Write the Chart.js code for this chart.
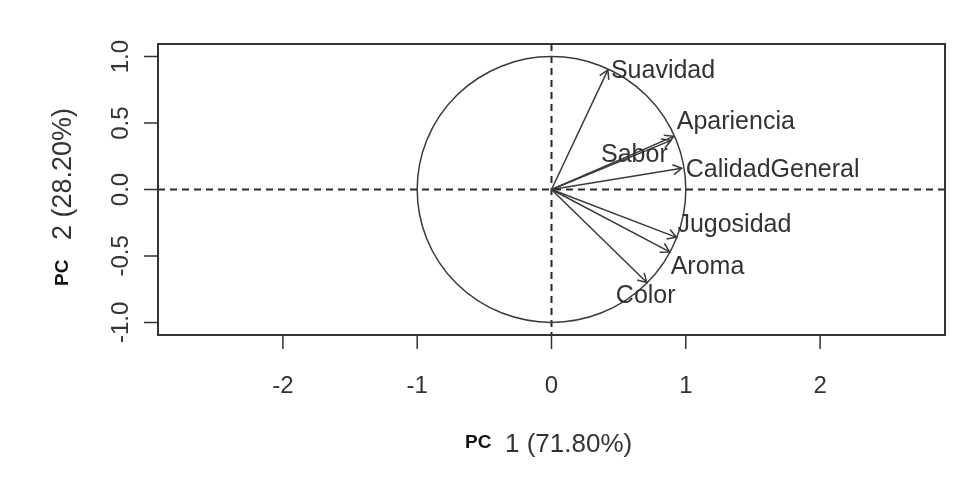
<!DOCTYPE html>
<html>
<head>
<meta charset="utf-8">
<script src="https://cdn.jsdelivr.net/npm/chart.js@4.4.1/dist/chart.umd.min.js"></script>
<style>
  html, body { margin: 0; padding: 0; background: #ffffff; }
  #wrap { width: 967px; height: 479px; position: relative; }
</style>
</head>
<body>
<div id="wrap"><canvas id="c" width="967" height="479"></canvas></div>
<script>
// Variable loadings on the first two principal components
const variables = ['Suavidad', 'Apariencia', 'Sabor', 'CalidadGeneral', 'Jugosidad', 'Aroma', 'Color'];
const pc1 = [0.42, 0.91, 0.89, 0.97, 0.93, 0.88, 0.71];
const pc2 = [0.90, 0.40, 0.37, 0.16, -0.36, -0.47, -0.70];

// Axis ticks
const xTicks = [-2, -1, 0, 1, 2];
const xTickLabels = ['-2', '-1', '0', '1', '2'];
const yTicks = [-1, -0.5, 0, 0.5, 1];
const yTickLabels = ['-1.0', '-0.5', '0.0', '0.5', '1.0'];

// Axis titles (bold prefix + plain rest)
const xTitle = ['PC', '1 (71.80%)'];
const yTitle = ['PC', '2 (28.20%)'];

// Pixel offsets of each variable label from its arrow tip (left edge, middle)
const labelOffsets = {
  Suavidad: [3, 1],
  Apariencia: [3, -14],
  Sabor: [-70, 15],
  CalidadGeneral: [4, 2],
  Jugosidad: [1, -12],
  Aroma: [1, 15],
  Color: [-31, 14]
};

const INK = '#333333';
const FONT = '"Liberation Sans", Arial, sans-serif';

const arrowSets = variables.map((name, i) => ({
  label: name,
  data: [{ x: 0, y: 0 }, { x: pc1[i], y: pc2[i] }],
  borderColor: '#3a3a3a',
  borderWidth: 1.5,
  pointRadius: 0,
  showLine: true,
  fill: false
}));

// Reference lines through the origin, circle, axes and texts
const biplotDecor = {
  id: 'biplotDecor',
  beforeDatasetsDraw(chart) {
    const { ctx, chartArea: a, scales: { x, y } } = chart;
    const cx = x.getPixelForValue(0), cy = y.getPixelForValue(0);
    ctx.save();
    // dashed zero lines
    ctx.strokeStyle = '#2a2a2a';
    ctx.lineWidth = 2;
    ctx.setLineDash([7, 5]);
    ctx.beginPath();
    ctx.moveTo(a.left, cy); ctx.lineTo(a.right, cy);
    ctx.moveTo(cx, a.top); ctx.lineTo(cx, a.bottom);
    ctx.stroke();
    ctx.setLineDash([]);
    // unit correlation circle
    const rx = x.getPixelForValue(1) - cx;
    const ry = cy - y.getPixelForValue(1);
    ctx.lineWidth = 1.5;
    ctx.strokeStyle = '#3a3a3a';
    ctx.beginPath();
    ctx.ellipse(cx, cy, rx, ry, 0, 0, Math.PI * 2);
    ctx.stroke();
    ctx.restore();
  },
  afterDatasetsDraw(chart) {
    const { ctx, chartArea: a, scales: { x, y } } = chart;
    ctx.save();
    // arrowheads
    ctx.strokeStyle = '#3a3a3a';
    ctx.lineWidth = 1.5;
    variables.forEach((name, i) => {
      const x0 = x.getPixelForValue(0), y0 = y.getPixelForValue(0);
      const x1 = x.getPixelForValue(pc1[i]), y1 = y.getPixelForValue(pc2[i]);
      const ang = Math.atan2(y1 - y0, x1 - x0);
      const L = 10, spread = Math.PI / 6;
      ctx.beginPath();
      ctx.moveTo(x1 - L * Math.cos(ang - spread), y1 - L * Math.sin(ang - spread));
      ctx.lineTo(x1, y1);
      ctx.lineTo(x1 - L * Math.cos(ang + spread), y1 - L * Math.sin(ang + spread));
      ctx.stroke();
    });
    // variable labels
    ctx.fillStyle = INK;
    ctx.font = '25px ' + FONT;
    ctx.textAlign = 'left';
    ctx.textBaseline = 'middle';
    variables.forEach((name, i) => {
      const off = labelOffsets[name];
      ctx.fillText(name, x.getPixelForValue(pc1[i]) + off[0], y.getPixelForValue(pc2[i]) + off[1]);
    });

    // plot box
    ctx.lineWidth = 2;
    ctx.strokeStyle = INK;
    ctx.strokeRect(a.left, a.top, a.right - a.left, a.bottom - a.top);

    // axis tick marks
    const tl = 14;
    ctx.lineWidth = 1.5;
    ctx.beginPath();
    xTicks.forEach(v => {
      const px = x.getPixelForValue(v);
      ctx.moveTo(px, a.bottom); ctx.lineTo(px, a.bottom + tl);
    });
    yTicks.forEach(v => {
      const py = y.getPixelForValue(v);
      ctx.moveTo(a.left, py); ctx.lineTo(a.left - tl, py);
    });
    ctx.stroke();

    // tick labels
    ctx.font = '24px ' + FONT;
    ctx.textAlign = 'center';
    ctx.textBaseline = 'middle';
    xTicks.forEach((v, i) => {
      ctx.fillText(xTickLabels[i], x.getPixelForValue(v), 386);
    });
    yTicks.forEach((v, i) => {
      ctx.save();
      ctx.translate(121, y.getPixelForValue(v));
      ctx.rotate(-Math.PI / 2);
      ctx.fillText(yTickLabels[i], 0, 0);
      ctx.restore();
    });

    // x axis title
    ctx.textAlign = 'left';
    ctx.textBaseline = 'alphabetic';
    ctx.font = 'bold 19px ' + FONT;
    ctx.fillStyle = '#111';
    ctx.fillText(xTitle[0], 465, 448);
    ctx.font = '26px ' + FONT;
    ctx.fillStyle = INK;
    ctx.fillText(xTitle[1], 505, 452);

    // y axis title
    ctx.save();
    ctx.translate(71, 286);
    ctx.rotate(-Math.PI / 2);
    ctx.font = 'bold 19px ' + FONT;
    ctx.fillStyle = '#111';
    ctx.fillText(yTitle[0], 0, -3);
    ctx.font = '27px ' + FONT;
    ctx.fillStyle = INK;
    ctx.fillText(yTitle[1], 46, 0);
    ctx.restore();
    ctx.restore();
  }
};

new Chart(document.getElementById('c'), {
  type: 'scatter',
  data: { datasets: arrowSets },
  options: {
    responsive: false,
    animation: false,
    events: [],
    layout: { padding: { left: 158, top: 44, right: 22, bottom: 144 } },
    plugins: { legend: { display: false }, tooltip: { enabled: false } },
    scales: {
      x: { type: 'linear', min: -2.93, max: 2.93, display: false },
      y: { type: 'linear', min: -1.095, max: 1.095, display: false }
    }
  },
  plugins: [biplotDecor]
});
</script>
</body>
</html>
